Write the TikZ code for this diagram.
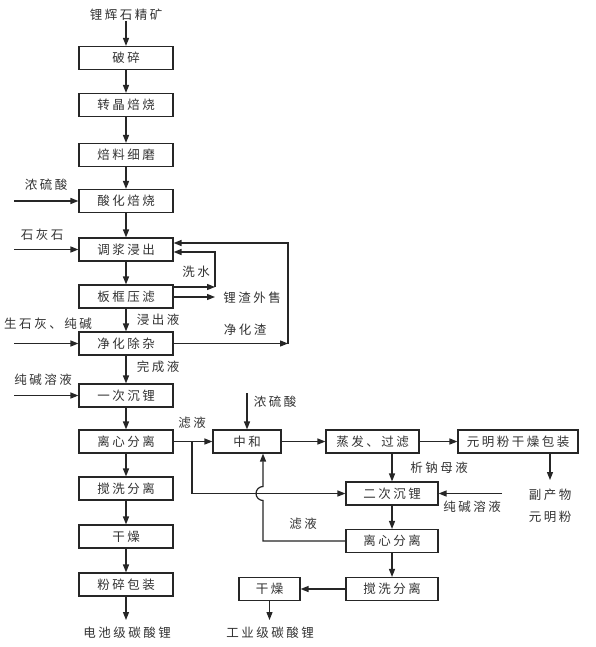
\documentclass[tikz,border=0pt]{standalone}
\usepackage{fontspec}
\newfontfamily\cjk[LetterSpace=20]{Noto Sans CJK SC}
\usetikzlibrary{arrows.meta}
\begin{document}
\begin{tikzpicture}[x=1pt,y=1pt,
  every node/.style={text=black!80},
  box/.style={draw=black!85, line width=1.1pt, minimum width=94pt, minimum height=23pt, inner sep=0pt, font=\cjk\fontsize{12.5}{14}\selectfont},
  lab/.style={inner sep=0pt, font=\cjk\fontsize{12.5}{14}\selectfont},
  arr/.style={draw=black!85, line width=1.2pt, -{Triangle[length=8pt,width=6pt]}},
  ln/.style={draw=black!85, line width=1.2pt}]
\fill[white] (0,0) rectangle (596,-647);
\useasboundingbox (0,0) rectangle (596,-647);
% main column
\node[lab] (t0) at (126,-15) {锂辉石精矿};
\node[box] (b1) at (126,-58) {破碎};
\node[box] (b2) at (126,-105) {转晶焙烧};
\node[box] (b3) at (126,-155) {焙料细磨};
\node[box] (b4) at (126,-201) {酸化焙烧};
\node[box] (b5) at (126,-249.5) {调浆浸出};
\node[box] (b6) at (126,-296.5) {板框压滤};
\node[box] (b7) at (126,-343.5) {净化除杂};
\node[box] (b8) at (126,-395.5) {一次沉锂};
\node[box] (b9) at (126,-441.5) {离心分离};
\node[box] (b10) at (126,-488.5) {搅洗分离};
\node[box] (b11) at (126,-536.5) {干燥};
\node[box] (b12) at (126,-584.5) {粉碎包装};
\node[lab] (e1) at (127,-633) {电池级碳酸锂};
\coordinate (k0) at (126,-620);
\draw[arr] (t0) -- (b1);
\draw[arr] (b1) -- (b2);
\draw[arr] (b2) -- (b3);
\draw[arr] (b3) -- (b4);
\draw[arr] (b4) -- (b5);
\draw[arr] (b5) -- (b6);
\draw[arr] (b6) -- (b7);
\draw[arr] (b7) -- (b8);
\draw[arr] (b8) -- (b9);
\draw[arr] (b9) -- (b10);
\draw[arr] (b10) -- (b11);
\draw[arr] (b11) -- (b12);
\draw[arr] (b12) -- (k0);
% left inputs
\node[lab] (l1) at (46,-185) {浓硫酸};
\node[lab] (l2) at (42,-235) {石灰石};
\node[lab] (l3) at (48,-324) {生石灰、纯碱};
\node[lab] (l4) at (43,-380) {纯碱溶液};
\coordinate (i1) at (14,-201);
\coordinate (i2) at (14,-249.5);
\coordinate (i3) at (14,-343.5);
\coordinate (i4) at (14,-395.5);
\draw[arr] (i1) -- (b4);
\draw[arr] (i2) -- (b5);
\draw[arr] (i3) -- (b7);
\draw[arr] (i4) -- (b8);
% side labels
\node[lab] (x1) at (196,-272) {洗水};
\node[lab] (x2) at (252,-298) {锂渣外售};
\node[lab] (x3) at (158,-320) {浸出液};
\node[lab] (x4) at (245,-330) {净化渣};
\node[lab] (x5) at (158,-367) {完成液};
% wash water loop
\coordinate (w1) at (215,-287);
\coordinate (w2) at (215,-252);
\draw[arr] (b6.east |- w1) -- (w1);
\draw[arr] (w1) -- (w2) -- (b5.east |- w2);
\coordinate (z1) at (215,-297);
\draw[arr] (b6.east |- z1) -- (z1);
% purification slag loop
\coordinate (j1) at (288,-343.5);
\coordinate (j2) at (288,-243);
\draw[arr] (b7) -- (j1);
\draw[arr] (j1) -- (j2) -- (b5.east |- j2);
% right part
\node[box, minimum width=68pt] (n1) at (247,-441.5) {中和};
\node[box, minimum width=93pt] (n2) at (372.5,-441.5) {蒸发、过滤};
\node[box, minimum width=120pt] (n3) at (518,-441.5) {元明粉干燥包装};
\node[box, minimum width=92pt] (m1) at (392,-493.5) {二次沉锂};
\node[box, minimum width=92pt] (m2) at (392,-541) {离心分离};
\node[box, minimum width=92pt] (m3) at (392,-589) {搅洗分离};
\node[box, minimum width=61pt] (m4) at (269.5,-589) {干燥};
\node[lab] (y1) at (192,-423) {滤液};
\node[lab] (y2) at (275,-402) {浓硫酸};
\node[lab] (y3) at (439,-468) {析钠母液};
\node[lab] (y4) at (472,-507) {纯碱溶液};
\node[lab] (y5) at (550,-495) {副产物};
\node[lab] (y6) at (550,-517) {元明粉};
\node[lab] (y7) at (303,-524) {滤液};
\node[lab] (e2) at (270,-633) {工业级碳酸锂};
\coordinate (s0) at (247,-393);
\coordinate (p1) at (550,-480);
\coordinate (c1) at (502,-493.5);
\coordinate (f1) at (192,-441.5);
\coordinate (f2) at (192,-493.5);
\coordinate (g1) at (263,-541);
\coordinate (g2) at (263,-500.5);
\coordinate (k1) at (269.5,-620);
\draw[arr] (b9) -- (n1);
\draw[arr] (s0) -- (n1);
\draw[arr] (n1) -- (n2);
\draw[arr] (n2) -- (n3);
\draw[arr] (n3.south -| p1) -- (p1);
\draw[arr] (n2.south -| m1) -- (m1);
\draw[arr] (c1) -- (m1);
\draw[arr] (f1) -- (f2) -- (m1);
\draw[arr] (m1) -- (m2);
\draw[arr] (m2) -- (m3);
\draw[arr] (m3) -- (m4);
\draw[arr] (m2.west |- g1) -- (g1) -- (g2) arc[start angle=270, end angle=90, radius=7] -- (n1.south -| g1);
\draw[arr] (m4) -- (k1);
\end{tikzpicture}
\end{document}
